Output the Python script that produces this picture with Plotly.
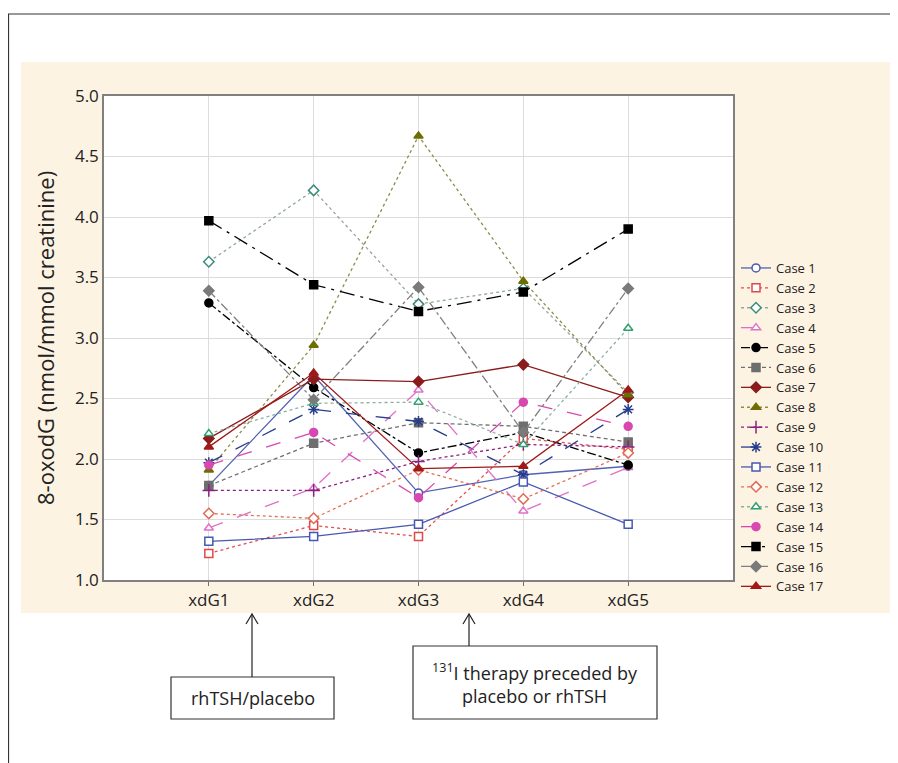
import plotly.graph_objects as go

timepoints = ["xdG1", "xdG2", "xdG3", "xdG4", "xdG5"]
case_names = [f"Case {i}" for i in range(1, 18)]

case1 = [1.78, 2.69, 1.72, 1.87, 1.94]
case2 = [1.22, 1.45, 1.36, 2.17, 2.08]
case3 = [3.63, 4.22, 3.28, 3.41, 2.55]
case4 = [1.43, 1.76, 2.57, 1.57, 1.93]
case5 = [3.29, 2.59, 2.05, 2.22, 1.95]
case6 = [1.78, 2.13, 2.30, 2.27, 2.14]
case7 = [2.17, 2.66, 2.64, 2.78, 2.51]
case8 = [1.91, 2.94, 4.67, 3.47, 2.53]
case9 = [1.74, 1.74, 1.98, 2.12, 2.10]
case10 = [1.97, 2.41, 2.31, 1.87, 2.41]
case11 = [1.32, 1.36, 1.46, 1.81, 1.46]
case12 = [1.55, 1.51, 1.91, 1.67, 2.05]
case13 = [2.21, 2.46, 2.47, 2.12, 3.08]
case14 = [1.95, 2.22, 1.68, 2.47, 2.27]
case15 = [3.97, 3.44, 3.22, 3.38, 3.90]
case16 = [3.39, 2.49, 3.42, 2.22, 3.41]
case17 = [2.10, 2.71, 1.92, 1.94, 2.57]

series = [case1, case2, case3, case4, case5, case6, case7, case8, case9,
          case10, case11, case12, case13, case14, case15, case16, case17]

# (line colour, dash, marker symbol, marker fill, marker line colour)
styles = [
    ("#5262b2", "solid", "circle", "white", "#4a5ab0"),
    ("#e05050", "dot", "square", "white", "#e04848"),
    ("#94a894", "dot", "diamond", "white", "#3c8c7c"),
    ("#e070c8", "longdash", "triangle-up", "white", "#e070c8"),
    ("#000000", "dashdot", "circle", "#000000", "#000000"),
    ("#707070", "4px,3px", "square", "#6e6e6e", "#6e6e6e"),
    ("#8b1c1c", "solid", "diamond", "#8b1c1c", "#8b1c1c"),
    ("#8c8c48", "dot", "triangle-up", "#6e6e00", "#6e6e00"),
    ("#8c2080", "dot", "cross-thin", "#8c2080", "#8c2080"),
    ("#283c8c", "longdash", "asterisk", "#283c8c", "#283c8c"),
    ("#4858b0", "solid", "square", "white", "#4858b0"),
    ("#e07058", "dot", "diamond", "white", "#e06c58"),
    ("#8cb0a0", "dot", "triangle-up", "white", "#30a070"),
    ("#d848b0", "longdash", "circle", "#d848b0", "#d848b0"),
    ("#000000", "longdashdot", "square", "#000000", "#000000"),
    ("#808080", "dashdot", "diamond", "#7a7a7a", "#7a7a7a"),
    ("#a01818", "solid", "triangle-up", "#a01818", "#a01818"),
]

fig = go.Figure()
for name, vals, (lc, dash, sym, fill, mlc) in zip(case_names, series, styles):
    size = 8
    if sym in ("cross-thin", "asterisk"):
        size = 9
    fig.add_trace(go.Scatter(
        x=timepoints, y=vals, name=name, mode="lines+markers",
        line=dict(color=lc, width=1.3, dash=dash),
        marker=dict(symbol=sym, size=size, color=fill,
                    line=dict(color=mlc, width=1.5)),
    ))

# page offset (browser body margin)
OFF = 8
W, H = 898 - OFF, 763 - OFF
# plot-area edges in screen pixels
L, R, T, B = 104, 733, 96, 580
pw, ph = R - L, B - T

def px(x):
    return (x - L) / pw

def py(y):
    return (B - y) / ph

shapes = [
    # outer frame
    dict(type="line", xref="paper", yref="paper", x0=px(8), x1=px(898), y0=py(14), y1=py(14),
         line=dict(color="#333333", width=1.2)),
    dict(type="line", xref="paper", yref="paper", x0=px(8.5), x1=px(8.5), y0=py(14), y1=py(763),
         line=dict(color="#333333", width=1.2)),
    # beige panel
    dict(type="rect", xref="paper", yref="paper", x0=px(21), x1=px(890), y0=py(613), y1=py(62),
         fillcolor="#fdf3e3", line=dict(width=0), layer="below"),
    # white plot area
    dict(type="rect", xref="paper", yref="paper", x0=0, x1=1, y0=0, y1=1,
         fillcolor="white", line=dict(width=0), layer="below"),
    # boxes
    dict(type="rect", xref="paper", yref="paper", x0=px(171), x1=px(334), y0=py(719), y1=py(677),
         fillcolor="white", line=dict(color="#333333", width=1.2)),
    dict(type="rect", xref="paper", yref="paper", x0=px(413), x1=px(657), y0=py(719), y1=py(646),
         fillcolor="white", line=dict(color="#333333", width=1.2)),
]

# arrows (open chevrons)
for ax_px, bottom in ((252, 677), (469, 646)):
    tip = 614
    shapes.append(dict(type="line", xref="paper", yref="paper", x0=px(ax_px), x1=px(ax_px),
                       y0=py(tip), y1=py(bottom), line=dict(color="#222222", width=1.2)))
    shapes.append(dict(type="path", xref="paper", yref="paper",
                       path=f"M {px(ax_px-6)} {py(tip+10)} L {px(ax_px)} {py(tip)} L {px(ax_px+6)} {py(tip+10)}",
                       line=dict(color="#222222", width=1.2)))

annotations = [
    dict(text="rhTSH/placebo", xref="paper", yref="paper", x=px(252.5), y=py(698),
         showarrow=False, font=dict(size=18, color="#222222"), xanchor="center", yanchor="middle"),
    dict(text="<sup>131</sup>I therapy preceded by<br>placebo or rhTSH", xref="paper", yref="paper",
         x=px(535), y=py(683), showarrow=False, font=dict(size=18, color="#222222"),
         xanchor="center", yanchor="middle", align="center"),
    dict(text="8-oxodG (nmol/mmol creatinine)", xref="paper", yref="paper", x=px(45), y=py(338),
         textangle=-90, showarrow=False, font=dict(size=22, color="#222222"),
         xanchor="center", yanchor="middle"),
]

fig.update_layout(
    width=W, height=H,
    margin=dict(l=L - OFF, r=W - (R - OFF), t=T - OFF, b=H - (B - OFF), autoexpand=False),
    paper_bgcolor="white", plot_bgcolor="white",
    font=dict(family="Open Sans", size=15, color="#222222"),
    shapes=shapes, annotations=annotations,
    legend=dict(x=px(736), y=py(253), xanchor="left", yanchor="top",
                bgcolor="rgba(0,0,0,0)", font=dict(size=13, color="#222222"),
                itemwidth=30, tracegroupgap=0),
    showlegend=True,
)
fig.update_xaxes(type="category", categoryorder="array", categoryarray=timepoints,
                 range=[-1, 5], showgrid=True, gridcolor="#dcdcdc", gridwidth=1,
                 showline=True, linecolor="#808080", linewidth=1.5, mirror=True,
                 ticks="outside", ticklen=4, tickcolor="#707070",
                 tickfont=dict(size=17, color="#222222"), zeroline=False)
fig.update_yaxes(range=[1, 5], dtick=0.5, tick0=1, tickformat=".1f",
                 showgrid=True, gridcolor="#dcdcdc", gridwidth=1,
                 showline=True, linecolor="#808080", linewidth=1.5, mirror=True,
                 ticks="", tickfont=dict(size=17, color="#222222"), zeroline=False)

fig.write_html("out.html")
